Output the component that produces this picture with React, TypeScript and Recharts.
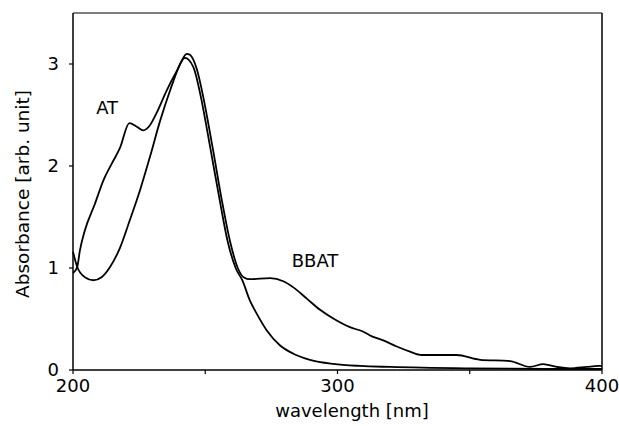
import { LineChart, Line, XAxis, YAxis, ReferenceLine, ReferenceDot } from 'recharts';

// wavelength [nm] and absorbance
const atWavelength = [
  200, 201.6, 202.6, 204.5, 208.3, 211.5, 214.6, 217.8, 221.3, 224.1, 226.6, 229.1, 231.6, 235.4,
  239.2, 242.3, 245.5, 248.4, 250.3, 252.1, 255.5, 258.4, 261.5, 264, 266.9, 269.5, 273.2, 278.3,
  283.3, 289.6, 298.4, 308.5, 320, 350, 380, 400,
];
const atAbsorbance = [
  0.95, 1.01, 1.17, 1.37, 1.63, 1.86, 2.02, 2.18, 2.42, 2.385, 2.35, 2.4, 2.52, 2.74,
  2.93, 3.06, 2.97, 2.67, 2.41, 2.15, 1.66, 1.27, 1.0, 0.88, 0.68, 0.55, 0.39, 0.24,
  0.16, 0.1, 0.06, 0.04, 0.03, 0.016, 0.01, 0.01,
];

const bbatWavelength = [
  200, 201.6, 204.5, 207.7, 210.8, 214, 217.8, 221.5, 225.3, 229.1, 232.9, 236.7, 240.5, 243,
  244.2, 246.8, 249.3, 251.2, 253, 256.3, 259.3, 262.3, 264.5, 266.9, 274.5, 279.5, 283.3, 288.4,
  293.4, 298.4, 304.7, 309.8, 313, 317.3, 322.4, 327.4, 331.8, 345, 353.9, 365.2, 372.8, 377.8,
  382.9, 387.9, 394.2, 398.5, 400,
];
const bbatAbsorbance = [
  1.16, 1.01, 0.91, 0.88, 0.91, 1.01, 1.2, 1.47, 1.76, 2.09, 2.44, 2.74, 3.0, 3.1,
  3.09, 2.95, 2.67, 2.41, 2.15, 1.66, 1.27, 1.0, 0.91, 0.89, 0.9, 0.87, 0.81, 0.7,
  0.59, 0.505, 0.42, 0.375, 0.33, 0.29, 0.23, 0.18, 0.147, 0.147, 0.1, 0.088, 0.03, 0.058,
  0.03, 0.016, 0.03, 0.04, 0.04,
];

const xTicks = [200, 250, 300, 350, 400];
const yTicks = [0, 1, 2, 3];

const atData = atWavelength.map((x, i) => ({ x, y: atAbsorbance[i] }));
const bbatData = bbatWavelength.map((x, i) => ({ x, y: bbatAbsorbance[i] }));

const font = '"DejaVu Sans", Arial, sans-serif';
const tickStyle = { fill: '#000', fontSize: 18, fontFamily: font };

const YLabel = () => (
  <text
    transform="translate(29,194) rotate(-90)"
    textAnchor="middle"
    fill="#000"
    fontSize={18.5}
    fontFamily={font}
  >
    Absorbance [arb. unit]
  </text>
);

const XLabel = () => (
  <text x={352} y={417} textAnchor="middle" fill="#000" fontSize={18} fontFamily={font}>
    wavelength [nm]
  </text>
);

export default function App() {
  return (
    <div style={{ position: 'absolute', left: 0, top: 0, background: '#fff' }}>
      <LineChart width={619} height={426} margin={{ top: 13, right: 17, bottom: 0, left: 0 }}>
        <XAxis
          type="number"
          dataKey="x"
          domain={[200, 400]}
          ticks={xTicks}
          tickFormatter={(v) => (v % 100 === 0 ? String(v) : '')}
          tick={tickStyle}
          tickSize={4}
          tickMargin={5}
          height={56}
          axisLine={{ stroke: '#000', strokeWidth: 1.5 }}
          tickLine={{ stroke: '#000', strokeWidth: 1.2 }}
          allowDuplicatedCategory={false}
          label={<XLabel />}
        />
        <YAxis
          type="number"
          domain={[0, 3.5]}
          ticks={yTicks}
          tick={tickStyle}
          tickSize={4}
          tickMargin={10}
          width={73}
          axisLine={{ stroke: '#000', strokeWidth: 1.5 }}
          tickLine={{ stroke: '#000', strokeWidth: 1.2 }}
          label={<YLabel />}
        />
        {/* box border top and right */}
        <ReferenceLine y={3.5} stroke="#000" strokeWidth={1.2} />
        <ReferenceLine x={400} stroke="#000" strokeWidth={1.5} />
        <Line data={atData} dataKey="y" type="monotone" stroke="#000" strokeWidth={1.8} dot={false} isAnimationActive={false} />
        <Line data={bbatData} dataKey="y" type="monotone" stroke="#000" strokeWidth={1.8} dot={false} isAnimationActive={false} />
        <ReferenceDot x={212.9} y={2.57} r={0} fill="none" stroke="none"
          label={{ value: 'AT', position: 'center', fill: '#000', fontSize: 18, fontFamily: font }} />
        <ReferenceDot x={291.5} y={1.075} r={0} fill="none" stroke="none"
          label={{ value: 'BBAT', position: 'center', fill: '#000', fontSize: 18, fontFamily: font }} />
      </LineChart>
    </div>
  );
}
